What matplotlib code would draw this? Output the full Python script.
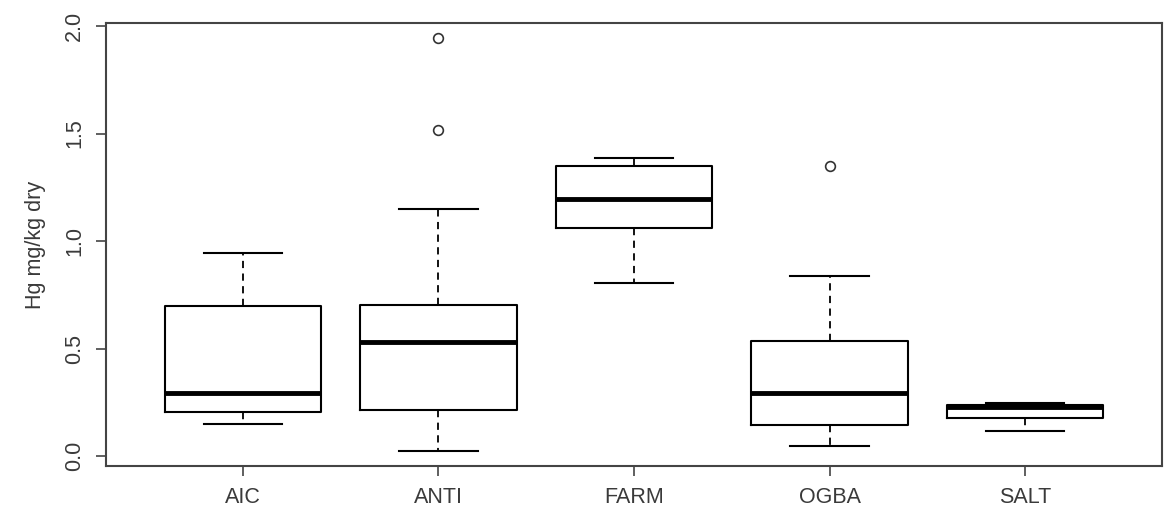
import matplotlib
matplotlib.use("Agg")
import matplotlib.pyplot as plt

categories = ["AIC", "ANTI", "FARM", "OGBA", "SALT"]
whislo = [0.149, 0.025, 0.806, 0.047, 0.118]
q1 = [0.203, 0.214, 1.062, 0.143, 0.175]
med = [0.292, 0.529, 1.197, 0.295, 0.226]
q3 = [0.698, 0.704, 1.349, 0.536, 0.239]
whishi = [0.946, 1.150, 1.386, 0.837, 0.247]
outliers = [[], [1.944, 1.516], [], [1.349], []]
y_ticks = [0.0, 0.5, 1.0, 1.5, 2.0]
y_label = "Hg mg/kg dry"

plt.rcParams['font.family'] = ['Liberation Sans', 'DejaVu Sans']
text_color = "#3a3a3a"

fig = plt.figure(figsize=(11.70, 5.11), dpi=100)
ax = fig.add_axes([106/1170, 45/511, (1162-106)/1170, (466-23)/511])

stats = []
for i, c in enumerate(categories):
    stats.append(dict(label=c, whislo=whislo[i], q1=q1[i], med=med[i],
                      q3=q3[i], whishi=whishi[i], fliers=outliers[i]))

positions = list(range(1, len(categories) + 1))
ax.bxp(stats, positions=positions, widths=0.8, showfliers=True,
       boxprops=dict(color="black", linewidth=1.5),
       medianprops=dict(color="black", linewidth=3.5, solid_capstyle="butt"),
       whiskerprops=dict(color="black", linewidth=1.3, linestyle=(0, (4, 3))),
       capprops=dict(color="black", linewidth=1.5),
       flierprops=dict(marker="o", markersize=7, markerfacecolor="none",
                       markeredgecolor="#333333", markeredgewidth=1.2),
       capwidths=0.4)

ax.set_xlim(0.3, 5.7)
ax.set_ylim(-0.0465, 2.014)
ax.set_yticks(y_ticks)
ax.set_yticklabels([f"{v:.1f}" for v in y_ticks], rotation=90, va="center")
ax.set_xticks(positions)
ax.set_xticklabels(categories)
ax.tick_params(axis="both", direction="out", length=7, width=1.2,
               color="#444444", labelsize=15.5, labelcolor=text_color, pad=8)
for s in ax.spines.values():
    s.set_linewidth(1.5)
    s.set_color("#444444")
ax.set_ylabel(y_label, fontsize=15.5, color=text_color)
ax.yaxis.set_label_coords(-0.057, 0.5)

fig.savefig("out.png", dpi=100)
